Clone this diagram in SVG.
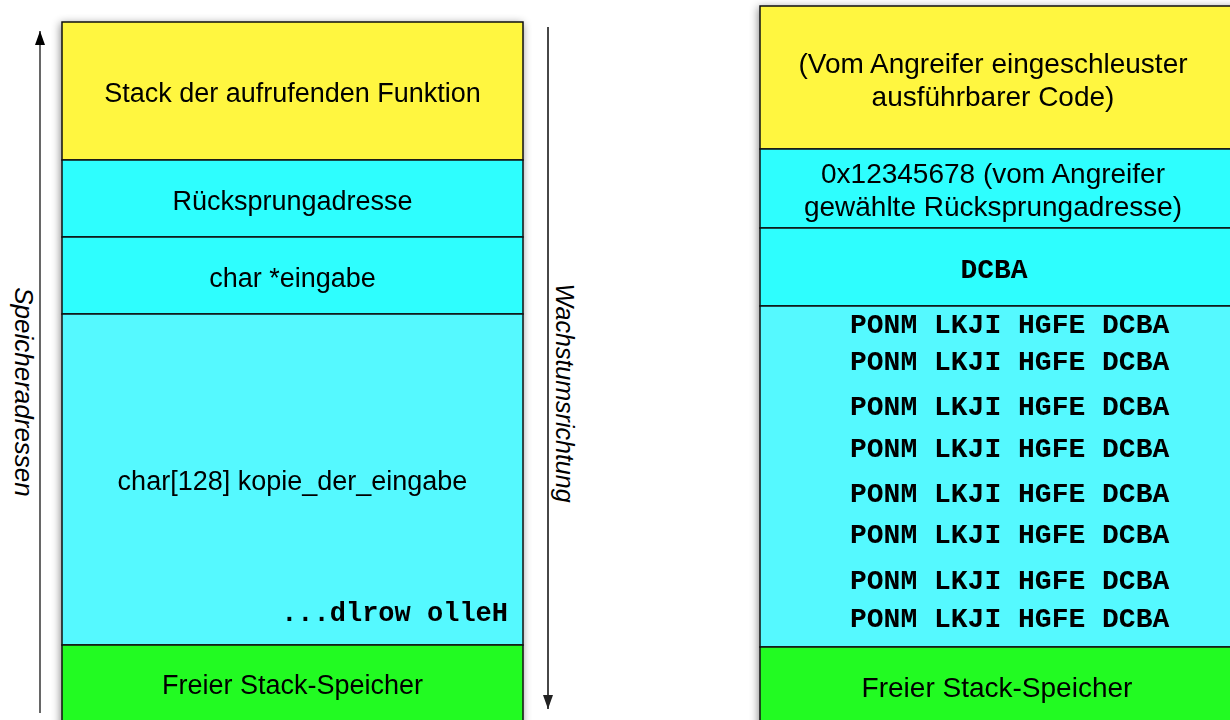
<svg xmlns="http://www.w3.org/2000/svg" width="1230" height="720" viewBox="0 0 1230 720">
  <style>
    .cell { stroke: #111; stroke-width: 1.5; }
    .yel { fill: #fff63f; }
    .cy1 { fill: #2dfefe; }
    .cy2 { fill: #55f9ff; }
    .grn { fill: #22fb22; }
    .lbl { font-family: "Liberation Sans", Arial, Helvetica, sans-serif; font-size: 27px; fill: #000; text-anchor: middle; }
    .lblR { font-family: "Liberation Sans", Arial, Helvetica, sans-serif; font-size: 28px; fill: #000; text-anchor: middle; }
    .mono { font-family: "Liberation Mono", "Courier New", monospace; font-weight: bold; font-size: 28px; fill: #000; }
    .side { font-family: "Liberation Sans", Arial, Helvetica, sans-serif; font-style: italic; font-size: 26px; fill: #000; text-anchor: middle; }
  </style>
  <defs>
    <filter id="shadow" x="-10%" y="-10%" width="120%" height="120%">
      <feDropShadow dx="-1" dy="2" stdDeviation="4" flood-color="#000" flood-opacity="0.45"/>
    </filter>
    <marker id="headUp" markerWidth="10" markerHeight="14" refX="5" refY="0" orient="0" markerUnits="userSpaceOnUse" viewBox="0 0 10 14">
      <path d="M0,14 L5,0 L10,14 Z" fill="#000"/>
    </marker>
    <marker id="head" markerWidth="10" markerHeight="14" refX="5" refY="14" orient="0" markerUnits="userSpaceOnUse" viewBox="0 0 10 14">
      <path d="M0,0 L10,0 L5,14 Z" fill="#222"/>
    </marker>
  </defs>

  <rect width="1230" height="720" fill="#fff"/>

  <!-- Left stack -->
  <g id="left-stack" filter="url(#shadow)">
    <g id="l-caller">
      <rect class="cell yel" x="62" y="22" width="461" height="138"/>
      <text class="lbl" x="292.5" y="102">Stack der aufrufenden Funktion</text>
    </g>
    <g id="l-return">
      <rect class="cell cy1" x="62" y="160" width="461" height="77"/>
      <text class="lbl" x="292.5" y="210">Rücksprungadresse</text>
    </g>
    <g id="l-eingabe">
      <rect class="cell cy1" x="62" y="237" width="461" height="77"/>
      <text class="lbl" x="292.5" y="287">char *eingabe</text>
    </g>
    <g id="l-buffer">
      <rect class="cell cy2" x="62" y="314" width="461" height="331"/>
      <text class="lbl" x="292.5" y="490">char[128] kopie_der_eingabe</text>
      <text class="mono" x="508" y="621" text-anchor="end" style="font-size:27px">...dlrow olleH</text>
    </g>
    <g id="l-free">
      <rect class="cell grn" x="62" y="645" width="461" height="90"/>
      <text class="lbl" x="292.5" y="694">Freier Stack-Speicher</text>
    </g>
  </g>

  <!-- Right stack -->
  <g id="right-stack" filter="url(#shadow)">
    <g id="r-code">
      <rect class="cell yel" x="760" y="6" width="480" height="143"/>
      <text class="lblR" x="993" y="73">(Vom Angreifer eingeschleuster</text>
      <text class="lblR" x="993" y="106">ausführbarer Code)</text>
    </g>
    <g id="r-return">
      <rect class="cell cy1" x="760" y="149" width="480" height="79"/>
      <text class="lblR" x="993" y="183">0x12345678 (vom Angreifer</text>
      <text class="lblR" x="993" y="216">gewählte Rücksprungadresse)</text>
    </g>
    <g id="r-eingabe">
      <rect class="cell cy1" x="760" y="228" width="480" height="78"/>
      <text class="mono" x="994" y="278" text-anchor="middle">DCBA</text>
    </g>
    <g id="r-buffer">
      <rect class="cell cy2" x="760" y="306" width="480" height="341"/>
      <text class="mono" x="850" y="333">PONM LKJI HGFE DCBA</text>
      <text class="mono" x="850" y="370">PONM LKJI HGFE DCBA</text>
      <text class="mono" x="850" y="415">PONM LKJI HGFE DCBA</text>
      <text class="mono" x="850" y="457">PONM LKJI HGFE DCBA</text>
      <text class="mono" x="850" y="502">PONM LKJI HGFE DCBA</text>
      <text class="mono" x="850" y="543">PONM LKJI HGFE DCBA</text>
      <text class="mono" x="850" y="589">PONM LKJI HGFE DCBA</text>
      <text class="mono" x="850" y="627">PONM LKJI HGFE DCBA</text>
    </g>
    <g id="r-free">
      <rect class="cell grn" x="760" y="647" width="480" height="90"/>
      <text class="lblR" x="997" y="697">Freier Stack-Speicher</text>
    </g>
  </g>

  <!-- Connectors -->
  <g id="connectors">
    <line x1="40" y1="713" x2="40" y2="31" stroke="#000" stroke-width="1.2" marker-end="url(#headUp)"/>
    <line x1="548" y1="27" x2="548" y2="709" stroke="#333" stroke-width="1.8" marker-end="url(#head)"/>
  </g>

  <g id="label-address">
    <text class="side" transform="translate(15,392) rotate(90)">Speicheradressen</text>
  </g>
  <g id="label-growth">
    <text class="side" style="font-size:25px" transform="translate(556,393) rotate(90)">Wachstumsrichtung</text>
  </g>
</svg>
